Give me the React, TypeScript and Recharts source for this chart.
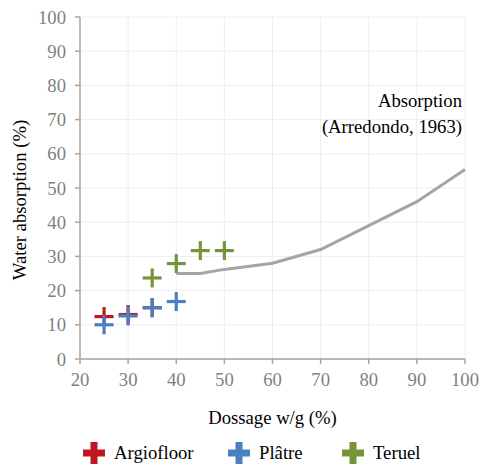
import { CartesianGrid, ComposedChart, Legend, Line, Scatter, XAxis, YAxis } from "recharts";

const xTicks = [20, 30, 40, 50, 60, 70, 80, 90, 100];
const yTicks = [0, 10, 20, 30, 40, 50, 60, 70, 80, 90, 100];

const argiofloorX = [25, 30, 35];
const argiofloorY = [12.4, 13, 15];

const platreX = [25, 30, 35, 40];
const platreY = [10, 12.6, 15, 16.8];

const teruelX = [35, 40, 45, 50];
const teruelY = [23.7, 27.9, 31.7, 31.7];

const absorptionX = [40, 45, 50, 60, 70, 80, 90, 100];
const absorptionY = [25, 25, 26.2, 28, 32, 39, 46, 55.4];

const toPoints = (xs: number[], ys: number[]) => xs.map((x, i) => ({ x, y: ys[i] }));

const FONT = "Liberation Serif";
const FS = 18.7;

const series = [
  { name: "Argiofloor", color: "#c0161d", data: toPoints(argiofloorX, argiofloorY) },
  { name: "Plâtre", color: "#4a7fc1", data: toPoints(platreX, platreY) },
  { name: "Teruel", color: "#76953a", data: toPoints(teruelX, teruelY) },
];

const plus = (color: string) => (props: any) => {
  const { cx, cy } = props;
  const h = 9.5;
  return (
    <g>
      <line x1={cx - h} y1={cy} x2={cx + h} y2={cy} stroke={color} strokeWidth={3.2} />
      <line x1={cx} y1={cy - h} x2={cx} y2={cy + h} stroke={color} strokeWidth={3.2} />
    </g>
  );
};

const LegendIcon = ({ color }: { color: string }) => (
  <svg width={22} height={22} style={{ display: "block" }}>
    <rect x={0} y={7.5} width={22} height={7} fill={color} />
    <rect x={7.5} y={0} width={7} height={22} fill={color} />
  </svg>
);

const renderLegend = () => (
  <div
    style={{
      display: "flex",
      fontFamily: FONT,
      fontSize: FS,
      lineHeight: "22px",
      color: "#000",
      paddingLeft: 83,
    }}
  >
    {series.map((s, i) => (
      <div
        key={s.name}
        style={{ display: "flex", alignItems: "center", width: i === 0 ? 145 : 114 }}
      >
        <LegendIcon color={s.color} />
        <span style={{ marginLeft: 9 }}>{s.name}</span>
      </div>
    ))}
  </div>
);

export default function App() {
  const tickStyle = { fill: "#7f7f7f", fontSize: FS, fontFamily: FONT };
  return (
    <div
      style={{
        position: "absolute",
        left: 0,
        top: 0,
        width: 480,
        height: 469,
        background: "#fff",
        fontFamily: FONT,
      }}
    >
      <ComposedChart width={480} height={469} margin={{ top: 17, right: 15, left: 0, bottom: 0 }}>
        <CartesianGrid stroke="#eeeeee" strokeWidth={1} />
        <XAxis
          type="number"
          dataKey="x"
          domain={[20, 100]}
          ticks={xTicks}
          interval={0}
          height={88}
          stroke="#a6a6a6"
          strokeWidth={1.5}
          tickSize={5}
          tickMargin={9}
          tick={tickStyle}
          label={{
            value: "Dossage w/g (%)",
            position: "insideTop",
            dy: 47,
            style: { fill: "#000", fontSize: FS, fontFamily: FONT },
          }}
        />
        <YAxis
          type="number"
          dataKey="y"
          domain={[0, 100]}
          ticks={yTicks}
          interval={0}
          width={80}
          stroke="#a6a6a6"
          strokeWidth={1.5}
          tickSize={5}
          tickMargin={9}
          tick={tickStyle}
          label={{
            value: "Water absorption (%)",
            angle: -90,
            position: "insideLeft",
            dx: 14,
            dy: 12,
            style: { fill: "#000", fontSize: FS, fontFamily: FONT, textAnchor: "middle" },
          }}
        />
        <Line
          data={toPoints(absorptionX, absorptionY)}
          dataKey="y"
          type="linear"
          stroke="#a5a5a5"
          strokeWidth={3}
          dot={false}
          legendType="none"
          isAnimationActive={false}
        />
        {series.map((s) => (
          <Scatter
            key={s.name}
            name={s.name}
            data={s.data}
            fill={s.color}
            shape={plus(s.color)}
            isAnimationActive={false}
          />
        ))}
        <Legend content={renderLegend} verticalAlign="bottom" wrapperStyle={{ bottom: 5 }} />
      </ComposedChart>
      <div
        style={{
          position: "absolute",
          right: 18,
          top: 88,
          textAlign: "right",
          fontFamily: FONT,
          fontSize: FS,
          lineHeight: "26px",
          color: "#000",
        }}
      >
        Absorption
        <br />
        (Arredondo, 1963)
      </div>
    </div>
  );
}
